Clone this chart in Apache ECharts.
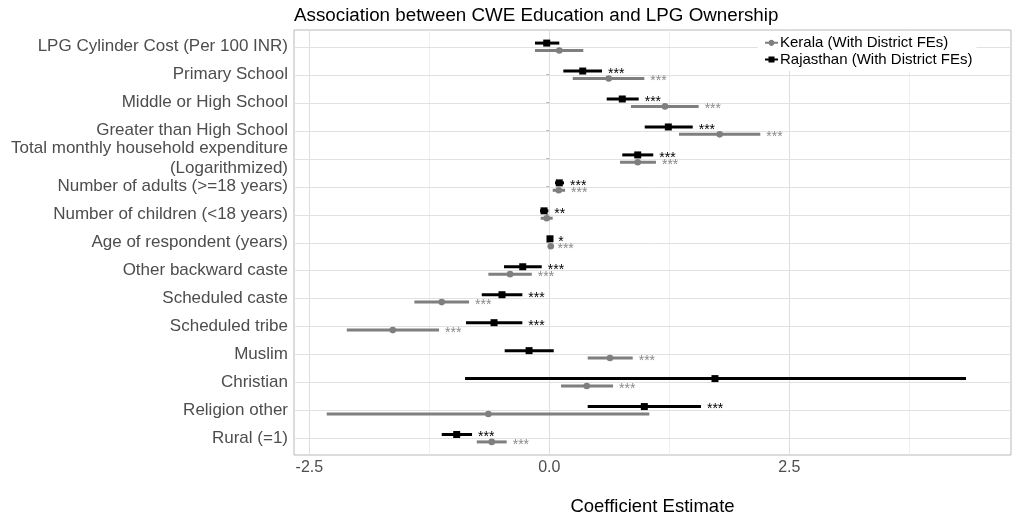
<!DOCTYPE html>
<html>
<head>
<meta charset="utf-8">
<script src="https://cdn.jsdelivr.net/npm/echarts@6/dist/echarts.min.js"></script>
<style>
  html, body { margin: 0; padding: 0; background: #ffffff; }
  #chart { width: 1017px; height: 515px; }
</style>
</head>
<body>
<div id="chart"></div>
<script>
// Regression covariates, top to bottom
const categories = [
  'LPG Cylinder Cost (Per 100 INR)',
  'Primary School',
  'Middle or High School',
  'Greater than High School',
  'Total monthly household expenditure\n(Logarithmized)',
  'Number of adults (>=18 years)',
  'Number of children (<18 years)',
  'Age of respondent (years)',
  'Other backward caste',
  'Scheduled caste',
  'Scheduled tribe',
  'Muslim',
  'Christian',
  'Religion other',
  'Rural (=1)'
];

// Kerala (with district fixed effects): point estimate, 95% CI, significance
const keralaEst = [0.104, 0.619, 1.205, 1.775, 0.921, 0.098, -0.027, 0.015, -0.409, -1.121, -1.631, 0.632, 0.390, -0.635, -0.600];
const keralaLo  = [-0.149, 0.244, 0.851, 1.351, 0.736, 0.035, -0.090, 0.008, -0.635, -1.406, -2.110, 0.400, 0.122, -2.319, -0.756];
const keralaHi  = [0.354, 0.990, 1.556, 2.198, 1.111, 0.164, 0.035, 0.022, -0.183, -0.836, -1.149, 0.869, 0.664, 1.042, -0.444];
const keralaSig = ['', '***', '***', '***', '***', '***', '', '***', '***', '***', '***', '***', '***', '', '***'];

// Rajasthan (with district fixed effects)
const rajEst = [-0.027, 0.348, 0.760, 1.240, 0.921, 0.104, -0.055, 0.007, -0.277, -0.493, -0.576, -0.211, 1.726, 0.990, -0.965];
const rajLo  = [-0.149, 0.146, 0.598, 0.994, 0.760, 0.059, -0.097, -0.016, -0.472, -0.704, -0.868, -0.465, -0.878, 0.400, -1.121];
const rajHi  = [0.104, 0.549, 0.931, 1.494, 1.083, 0.153, -0.010, 0.030, -0.079, -0.281, -0.281, 0.046, 4.341, 1.580, -0.805];
const rajSig = ['', '***', '***', '***', '***', '***', '**', '*', '***', '***', '***', '', '', '***', '***'];

// Axis ticks and grid
const X_MIN = -2.66;
const X_MAX = 4.81;
const xTicks = [-2.5, 0, 2.5];
const xMinorGrid = [-1.25, 1.25, 3.75];
const yTicks = categories.map((_, i) => i);

const FONT = '"Liberation Sans", Arial, Helvetica, sans-serif';
const KERALA_COLOR = '#7f7f7f';
const RAJ_COLOR = '#000000';

// Panel grid lines (one custom item draws every line of a set), under the estimates
function gridLinesV(values, color) {
  return {
    type: 'custom', silent: true, z: 1,
    data: [[values[0], -0.6]],
    encode: { x: 0, y: 1 },
    renderItem(params, api) {
      const cs = params.coordSys;
      return {
        type: 'group',
        children: values.map(v => {
          const x = Math.round(api.coord([v, 0])[0]) + 0.5;
          return { type: 'line', shape: { x1: x, y1: cs.y, x2: x, y2: cs.y + cs.height },
                   style: { stroke: color, lineWidth: 1 } };
        })
      };
    }
  };
}

function gridLinesH(color) {
  return {
    type: 'custom', silent: true, z: 1,
    data: [[X_MIN, 0]],
    encode: { x: 0, y: 1 },
    renderItem(params, api) {
      const cs = params.coordSys;
      return {
        type: 'group',
        children: yTicks.map(i => {
          const y = Math.round(api.coord([X_MIN, i])[1]) + 0.5;
          return { type: 'line', shape: { x1: cs.x, y1: y, x2: cs.x + cs.width, y2: y },
                   style: { stroke: color, lineWidth: 1 } };
        })
      };
    }
  };
}

function estimateSeries(name, lo, hi, est, sig, color, starColor, dy, marker) {
  return {
    type: 'custom', name: name, z: 10,
    itemStyle: { color: color },
    encode: { x: [0, 1, 2], y: 3 },
    data: categories.map((_, i) => [lo[i], hi[i], est[i], i]),
    renderItem(params, api) {
      const i = api.value(3);
      const pLo = api.coord([api.value(0), i]);
      const pHi = api.coord([api.value(1), i]);
      const pEst = api.coord([api.value(2), i]);
      const y = pEst[1] + dy;
      const children = [
        { type: 'line', shape: { x1: pLo[0], y1: y, x2: pHi[0], y2: y },
          style: { stroke: color, lineWidth: 3 } },
        marker === 'square'
          ? { type: 'rect', shape: { x: pEst[0] - 3.5, y: y - 3.5, width: 7, height: 7 }, style: { fill: color } }
          : { type: 'circle', shape: { cx: pEst[0], cy: y, r: 3.3 }, style: { fill: color } }
      ];
      if (sig[i]) {
        children.push({
          type: 'text', x: pHi[0] + 6, y: y + 3,
          style: { text: sig[i], fill: starColor, font: '14px ' + FONT, align: 'left', verticalAlign: 'middle' }
        });
      }
      return { type: 'group', children: children };
    }
  };
}

const chart = echarts.init(document.getElementById('chart'), null, { renderer: 'canvas' });

chart.setOption({
  animation: false,
  backgroundColor: '#ffffff',
  title: {
    text: 'Association between CWE Education and LPG Ownership',
    left: 294, top: 6, padding: 0,
    textStyle: { fontFamily: FONT, fontSize: 18.8, fontWeight: 'normal', color: '#000000' }
  },
  legend: {
    orient: 'vertical',
    left: 758, top: 31.5,
    padding: [3, 4, 3, 7],
    backgroundColor: '#ffffff',
    itemWidth: 13, itemHeight: 6, itemGap: 0,
    selectedMode: false,
    textStyle: { fontFamily: FONT, fontSize: 15, color: '#000000', lineHeight: 16.7, padding: [0, 0, 0, -3] },
    data: [
      { name: 'Kerala (With District FEs)',
        icon: 'path://M0,2H3.67A3,3,0,0,1,9.33,2H13V4H9.33A3,3,0,0,1,3.67,4H0Z' },
      { name: 'Rajasthan (With District FEs)',
        icon: 'path://M0,2H3.5V0H9.5V2H13V4H9.5V6H3.5V4H0Z' }
    ]
  },
  grid: {
    left: 294, right: 6, top: 30, bottom: 60,
    outerBoundsMode: 'none',
    containLabel: false,
    show: true, borderColor: '#b8b8b8', borderWidth: 1, backgroundColor: '#ffffff'
  },
  xAxis: {
    type: 'value',
    min: X_MIN, max: X_MAX,
    name: 'Coefficient Estimate',
    nameLocation: 'middle', nameGap: 42,
    nameTextStyle: { fontFamily: FONT, fontSize: 18.5, color: '#000000' },
    axisLine: { show: false },
    axisTick: { show: true, length: 3, inside: false, lineStyle: { color: '#b3b3b3' }, customValues: xTicks },
    axisLabel: {
      customValues: xTicks, margin: 5,
      fontFamily: FONT, fontSize: 16, color: '#4d4d4d',
      formatter: v => v.toFixed(1)
    },
    splitLine: { show: false }
  },
  yAxis: {
    type: 'value',
    inverse: true,
    min: -0.6, max: 14.6,
    axisLine: { show: false },
    axisTick: { show: true, length: 3, lineStyle: { color: '#b3b3b3' }, customValues: yTicks },
    axisLabel: {
      customValues: yTicks, margin: 6,
      fontFamily: FONT, fontSize: 17, color: '#4d4d4d', lineHeight: 20, align: 'right',
      formatter: v => categories[Math.round(v)]
    },
    splitLine: { show: false }
  },
  series: [
    gridLinesV(xMinorGrid, '#efefef'),
    gridLinesV(xTicks, '#dedede'),
    gridLinesH('#e1e1e1'),
    estimateSeries('Kerala (With District FEs)', keralaLo, keralaHi, keralaEst, keralaSig,
                   KERALA_COLOR, '#8a8a8a', 3.7, 'circle'),
    estimateSeries('Rajasthan (With District FEs)', rajLo, rajHi, rajEst, rajSig,
                   RAJ_COLOR, '#000000', -3.7, 'square')
  ]
});
</script>
</body>
</html>
